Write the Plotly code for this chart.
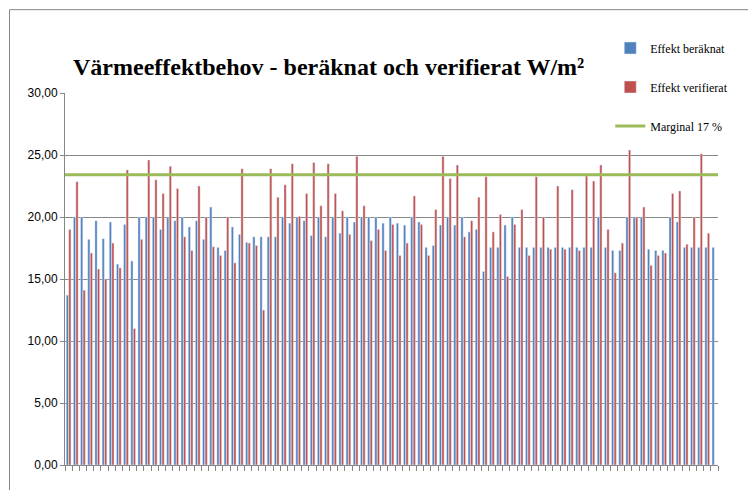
import plotly.graph_objects as go

beraknat = [13.7,20,20,18.2,19.7,18.25,19.6,16.2,19.4,16.45,20,20,20,19.0,20,19.7,20,19.2,19.7,18.2,20.8,17.55,17.3,
 19.2,18.6,17.95,18.4,18.4,18.4,18.4,20,19.5,20,19.7,18.5,20,18.4,20,18.7,20,19.6,20,20,20,19.5,20,
 19.5,19.35,20,19.6,17.55,17.7,19.35,20,19.35,20,18.8,19.0,15.6,17.55,17.55,19.35,20,17.55,17.55,17.55,17.55,17.55,17.55,
 17.55,17.55,17.55,17.55,17.55,20,17.55,17.3,17.3,20,20,20,17.4,17.3,17.3,20,19.6,17.55,17.55,17.55,17.55,17.55]
verifierat = [19.0,22.85,14.1,17.1,15.8,15.0,17.9,15.9,23.8,11.0,18.2,24.6,23.0,21.9,24.1,22.3,18.4,17.3,22.5,20,17.6,16.9,20,
 16.3,23.9,17.9,17.7,12.5,23.9,21.6,22.6,24.3,20.05,21.9,24.4,20.9,24.3,21.9,20.5,18.6,24.9,20.9,18.1,19.0,17.3,19.4,
 16.9,17.9,21.7,19.4,16.9,20.6,24.9,23.1,24.2,18.4,19.7,21.6,23.25,18.8,20.2,15.2,19.4,20.6,16.9,23.25,20,17.4,22.5,
 17.4,22.2,17.3,23.3,22.9,24.2,19.0,15.5,17.9,25.4,20,20.8,16.1,16.9,17.1,21.9,22.1,17.8,20,25.1,18.7]
marginal = 23.4
n = len(beraknat)
x = list(range(n))

fig = go.Figure()
fig.add_trace(go.Bar(x=x, y=beraknat, name="Effekt beräknat", marker_color="#4F81BD", legendgroup="a"))
fig.add_trace(go.Bar(x=x, y=verifierat, name="Effekt verifierat", marker_color="#C0504D", legendgroup="b"))
fig.add_trace(go.Scatter(x=[-0.5, n-0.5], y=[marginal, marginal], mode="lines", name="Marginal 17 %",
                         line=dict(color="#9BBB59", width=3), legendgroup="c"))

fig.update_layout(
    width=756, height=490, paper_bgcolor="white", plot_bgcolor="white",
    margin=dict(l=57, r=46, t=85, b=33, autoexpand=False),
    barmode="group", bargap=0.3, bargroupgap=0.12,
    title=dict(text="<b>Värmeeffektbehov - beräknat och verifierat W/m²</b>", x=0.086, xanchor="left",
               y=0.88, yanchor="middle", font=dict(family="Liberation Serif", size=24, color="black")),
    legend=dict(x=0.835, xanchor="left", y=1.16, yanchor="top", bgcolor="rgba(0,0,0,0)",
                font=dict(family="Liberation Serif", size=12, color="black"), tracegroupgap=20),
    showlegend=True,
    xaxis=dict(range=[-0.5, n-0.5], tickvals=[i+0.5 for i in range(-1, n)], ticktext=[""]*(n+1),
               ticks="outside", ticklen=5, tickcolor="#868686", showgrid=False, showline=True,
               linecolor="#868686", zeroline=False),
    yaxis=dict(range=[0, 30], dtick=5, tickformat=".2f", showgrid=True,
               gridcolor="#868686", showline=True, linecolor="#868686", ticks="outside", ticklen=4,
               tickcolor="#868686", zeroline=False, tickfont=dict(family="Liberation Sans", size=12, color="black")),
    separators=",.",
)
fig.add_shape(type="rect", xref="paper", yref="paper", x0=-0.085, x1=1.069, y0=-0.087, y1=1.224,
              line=dict(color="#868686", width=1))
fig.write_html("out.html")
